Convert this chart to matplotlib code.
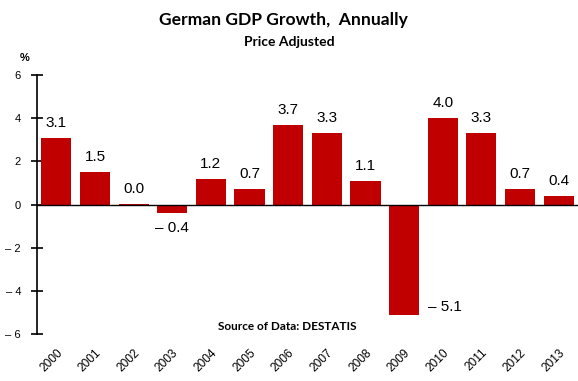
import numpy as np
import matplotlib
matplotlib.use("Agg")
import matplotlib.pyplot as plt

years = ["2000", "2001", "2002", "2003", "2004", "2005", "2006",
         "2007", "2008", "2009", "2010", "2011", "2012", "2013"]
# 2002 shows as 0.0 but the bar has a thin visible sliver
growth = [3.1, 1.5, 0.04, -0.4, 1.2, 0.7, 3.7, 3.3, 1.1, -5.1, 4.0, 3.3, 0.7, 0.4]
yticks = [-6, -4, -2, 0, 2, 4, 6]

bar_color = "#C00000"
num_font = "Liberation Sans"
head_font = "Lato"


def fmt(v, nd=1):
    s = "%.*f" % (nd, abs(v))
    return "\u2013 " + s if v < 0 else s


fig = plt.figure(figsize=(5.78, 3.81), dpi=100)
ax = fig.add_axes([0.064, 0.123, 0.936, 0.680])

x = np.arange(len(years))
ax.bar(x, growth, width=0.78, color=bar_color, zorder=2)

ax.set_xlim(-0.5, len(years) - 0.5)
ax.set_ylim(-6, 6)
ax.axhline(0, color="black", lw=1.0, zorder=3)

for s in ["top", "right", "bottom"]:
    ax.spines[s].set_visible(False)
ax.spines["left"].set_linewidth(1.2)

ax.set_yticks(yticks)
ax.set_yticklabels([fmt(t, 0) for t in yticks], fontfamily=num_font, fontsize=8)
ax.tick_params(axis="y", direction="inout", length=9, width=1.2, pad=7)

ax.set_xticks(x)
ax.set_xticklabels(years, rotation=45, ha="right", va="top",
                   rotation_mode="anchor", fontfamily=num_font, fontsize=8.6)
ax.tick_params(axis="x", length=0, pad=9)

for i, v in enumerate(growth):
    if i == 9:
        # label pushed beside the bar, like the original
        ax.annotate(fmt(v), (i + 0.39, v), xytext=(9, 8),
                    textcoords="offset pixels", ha="left", va="center",
                    fontfamily=num_font, fontsize=11)
    elif v < 0:
        ax.annotate(fmt(v), (i, v), xytext=(0, -15),
                    textcoords="offset pixels", ha="center", va="center",
                    fontfamily=num_font, fontsize=11)
    else:
        ax.annotate(fmt(v), (i, v), xytext=(0, 15),
                    textcoords="offset pixels", ha="center", va="center",
                    fontfamily=num_font, fontsize=11)

fig.text(0.49, 0.947, "German GDP Growth,  Annually", ha="center", va="center",
         fontfamily=head_font, fontweight="bold", fontsize=12.6)
fig.text(0.5, 0.89, "Price Adjusted", ha="center", va="center",
         fontfamily=head_font, fontweight="bold", fontsize=10)
fig.text(0.042, 0.848, "%", ha="center", va="center",
         fontfamily=num_font, fontweight="bold", fontsize=8)
fig.text(0.497, 0.142, "Source of Data: DESTATIS", ha="center", va="center",
         fontfamily=head_font, fontweight="bold", fontsize=8.5)

fig.savefig("out.png", dpi=100)
